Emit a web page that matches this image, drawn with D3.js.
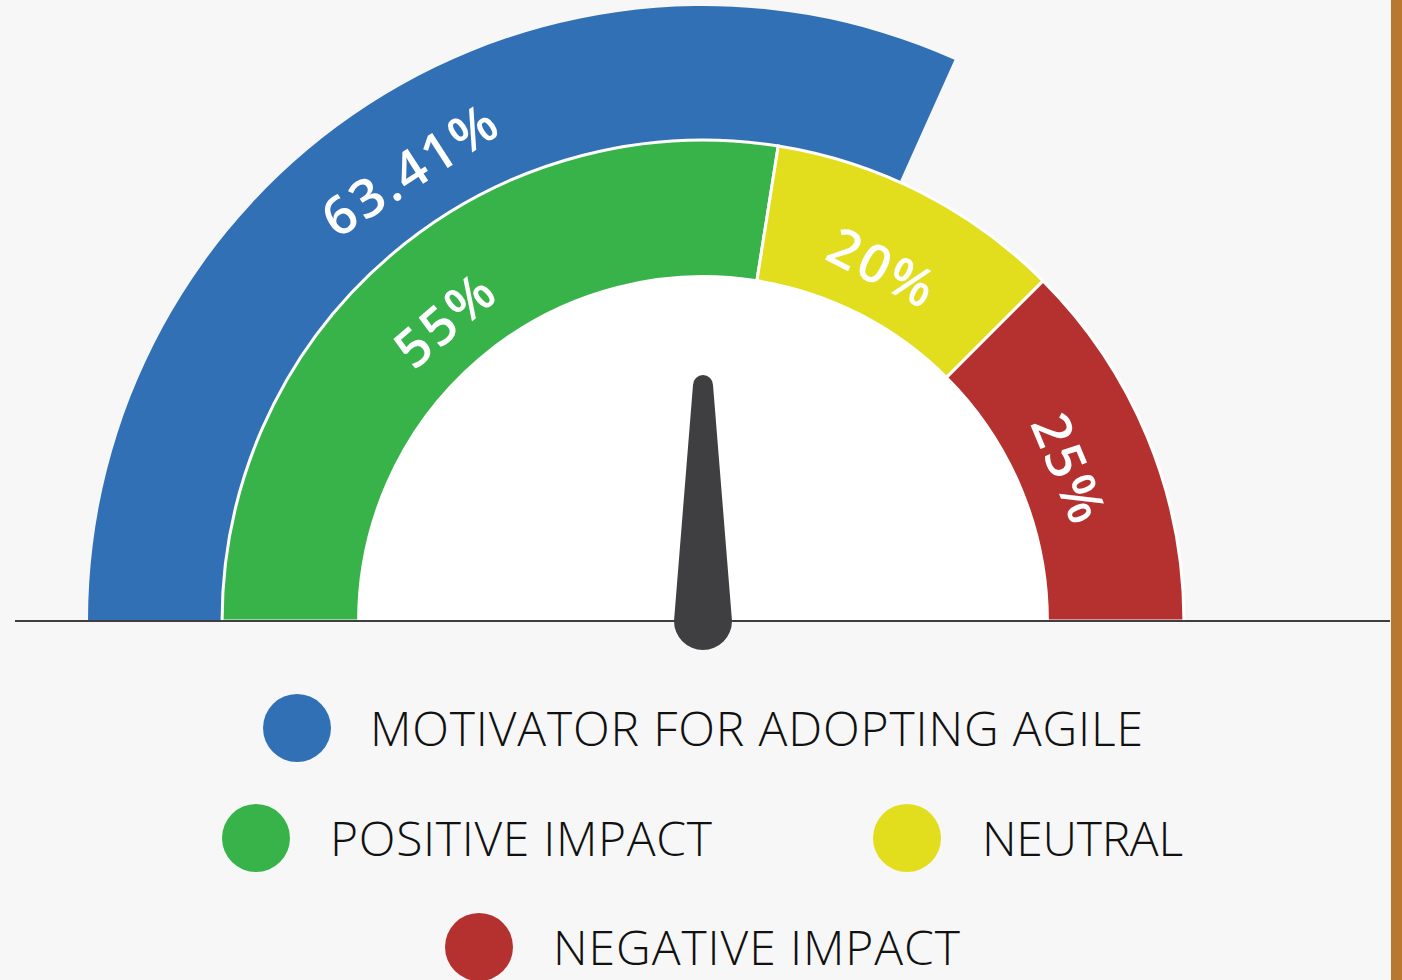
<!DOCTYPE html>
<html><head><meta charset="utf-8">
<script src="https://cdn.jsdelivr.net/npm/d3@7"></script>
<style>
html,body{margin:0;padding:0;background:#f7f7f7;}
svg{display:block;}
</style></head>
<body>
<svg id="chart" width="1402" height="980"></svg>
<script>
// Data
const outerCategories = ["MOTIVATOR FOR ADOPTING AGILE"];
const outerValues = [63.41];
const innerCategories = ["POSITIVE IMPACT", "NEUTRAL", "NEGATIVE IMPACT"];
const innerValues = [55, 20, 25];
const valueLabels = ["63.41%", "55%", "20%", "25%"];
const legendItems = ["MOTIVATOR FOR ADOPTING AGILE", "POSITIVE IMPACT", "NEUTRAL", "NEGATIVE IMPACT"];
const colors = ["#3270b5", "#37b34a", "#e2dd1d", "#b5312f"];
const needleValue = 50;

const svg = d3.select("#chart");
const cx = 703, cy = 621;
const angle = d3.scaleLinear().domain([0, 100]).range([-Math.PI/2, Math.PI/2]);
const rScale = d3.scaleLinear().domain([0, 1]).range([0, 615]);

// right border bar
svg.append("rect").attr("x", 1391).attr("y", 0).attr("width", 11).attr("height", 980).attr("fill", "#b8782f");

const g = svg.append("g").attr("transform", `translate(${cx},${cy})`);

// inner white half disc
g.append("path")
  .attr("d", d3.arc()({innerRadius: 0, outerRadius: rScale(0.56), startAngle: -Math.PI/2, endAngle: Math.PI/2}))
  .attr("fill", "#ffffff");

// outer (blue) arc
const outerArc = d3.arc().innerRadius(rScale(0.782)).outerRadius(rScale(1));
let acc = 0;
const outerData = outerValues.map((v, i) => { const d = {startAngle: angle(acc), endAngle: angle(acc + v), i}; acc += v; return d; });
g.selectAll(".outer").data(outerData).join("path")
  .attr("d", outerArc).attr("fill", colors[0]);

// inner arcs
const innerArc = d3.arc().innerRadius(rScale(0.56)).outerRadius(rScale(0.782));
acc = 0;
const innerData = innerValues.map((v, i) => { const d = {startAngle: angle(acc), endAngle: angle(acc + v), i}; acc += v; return d; });
g.selectAll(".inner").data(innerData).join("path")
  .attr("d", innerArc).attr("fill", (d, i) => colors[i + 1])
  .attr("stroke", "#ffffff").attr("stroke-width", 3);

// labels
function addLabel(d, r, text) {
  const a = (d.startAngle + d.endAngle) / 2;
  const x = r * Math.sin(a), y = -r * Math.cos(a);
  g.append("text")
    .attr("transform", `translate(${x},${y}) rotate(${a * 180 / Math.PI})`)
    .attr("text-anchor", "middle")
    .attr("dy", "0.36em")
    .attr("fill", "#ffffff")
    .attr("font-family", "'Open Sans', sans-serif")
    .attr("font-weight", 600)
    .attr("font-size", 53)
    .attr("letter-spacing", 3)
    .text(text);
}
addLabel(outerData[0], rScale(0.875), valueLabels[0]);
innerData.forEach((d, i) => addLabel(d, rScale(0.645), valueLabels[i + 1]));

// baseline
svg.append("line").attr("x1", 15).attr("x2", 1390).attr("y1", cy).attr("y2", cy)
  .attr("stroke", "#3f3f41").attr("stroke-width", 2);

// needle
const na = angle(needleValue) * 180 / Math.PI;
const R0 = 29, R1 = 10, L = 236;
const needle = g.append("g").attr("transform", `rotate(${na})`);
needle.append("path")
  .attr("d", `M${-R0},0 L${-R1},${-L} A${R1},${R1} 0 0 1 ${R1},${-L} L${R0},0 A${R0},${R0} 0 0 1 ${-R0},0 Z`)
  .attr("fill", "#3f3f41");

// legend
const legendPos = [
  {cx: 297, cy: 728, tx: 370, tw: 773},
  {cx: 256, cy: 838, tx: 330, tw: 382},
  {cx: 907, cy: 838, tx: 982, tw: 201},
  {cx: 479, cy: 947, tx: 553, tw: 407}
];
const lg = svg.append("g");
legendItems.forEach((t, i) => {
  const p = legendPos[i];
  lg.append("circle").attr("cx", p.cx).attr("cy", p.cy).attr("r", 34).attr("fill", colors[i]);
  lg.append("text").attr("x", p.tx).attr("y", p.cy + 18)
    .attr("font-family", "'Open Sans', sans-serif")
    .attr("font-weight", 300)
    .attr("font-size", 48)
    .attr("fill", "#111111")
    .attr("textLength", p.tw).attr("lengthAdjust", "spacing")
    .text(t);
});
</script>
</body></html>
